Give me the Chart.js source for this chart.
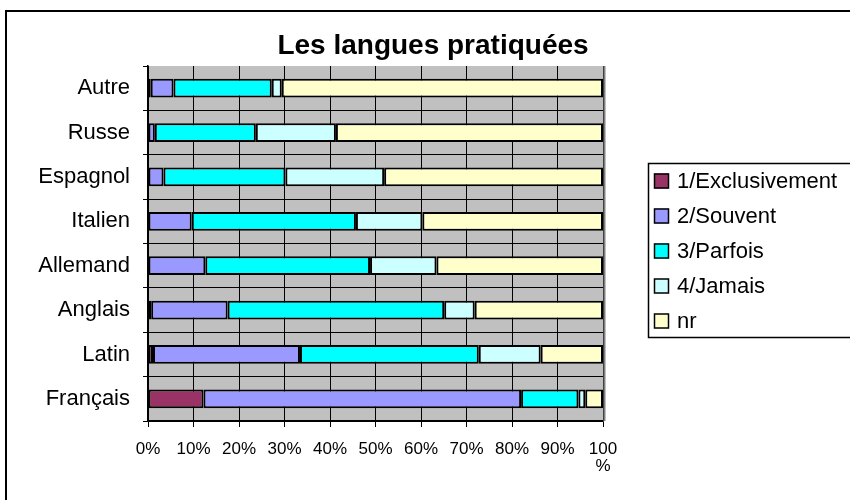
<!DOCTYPE html>
<html>
<head>
<meta charset="utf-8">
<title>Les langues pratiquées</title>
<script src="https://cdn.jsdelivr.net/npm/chart.js@4/dist/chart.umd.min.js"></script>
<style>
  html, body { margin: 0; padding: 0; background: #fff; }
  #wrap { width: 850px; height: 500px; }
</style>
</head>
<body>
<div id="wrap"><canvas id="chart" width="850" height="500"></canvas></div>
<script>
// data (percent of answers, each row sums to 100)
var title = 'Les langues pratiquées'
var categories = ['Autre', 'Russe', 'Espagnol', 'Italien', 'Allemand', 'Anglais', 'Latin', 'Français']
var seriesNames = ['1/Exclusivement', '2/Souvent', '3/Parfois', '4/Jamais', 'nr']
var exclusivement = [0.6, 0, 0, 0, 0, 0.7, 1.1, 12.2]
var souvent = [5.0, 1.5, 3.4, 9.6, 12.6, 16.8, 32.3, 69.8]
var parfois = [21.6, 22.2, 26.8, 36.1, 36.2, 47.6, 39.3, 12.6]
var jamais = [2.2, 17.6, 21.7, 14.6, 14.6, 6.7, 13.6, 1.5]
var nr = [70.6, 58.7, 48.1, 39.7, 36.6, 28.2, 13.7, 3.9]
var xTicks = [0, 10, 20, 30, 40, 50, 60, 70, 80, 90, 100]

var colors = ['#993366', '#9999FF', '#00FFFF', '#CCFFFF', '#FFFFCC']
var values = [exclusivement, souvent, parfois, jamais, nr]
var FONT = '"Liberation Sans", Arial, sans-serif'

Chart.defaults.font.family = FONT
Chart.defaults.color = '#000'

// excel-like decoration: frame, grey plot area, title and boxed legend
var decor = {
  id: 'decor',
  beforeDraw: (chart) => {
    const ctx = chart.ctx
    const a = chart.chartArea
    ctx.save()
    ctx.fillStyle = '#fff'
    ctx.fillRect(0, 0, chart.width, chart.height)
    ctx.strokeStyle = '#000'
    ctx.lineWidth = 2
    ctx.strokeRect(6, 11, 900, 600)
    ctx.fillStyle = '#C0C0C0'
    ctx.fillRect(a.left, a.top, a.right - a.left, a.bottom - a.top)
    ctx.restore()
  },
  afterDraw: (chart) => {
    const ctx = chart.ctx
    const a = chart.chartArea
    ctx.save()
    // plot area right edge
    ctx.strokeStyle = '#808080'
    ctx.lineWidth = 2
    ctx.beginPath()
    ctx.moveTo(a.right + 1.5, a.top)
    ctx.lineTo(a.right + 1.5, a.bottom)
    ctx.stroke()

    // title
    ctx.fillStyle = '#000'
    ctx.font = 'bold 28px ' + FONT
    ctx.textAlign = 'center'
    ctx.textBaseline = 'middle'
    ctx.fillText(title, 433, 46)

    // legend
    ctx.strokeStyle = '#000'
    ctx.lineWidth = 1.5
    ctx.strokeRect(648.5, 163.5, 300, 174)
    ctx.font = '22px ' + FONT
    ctx.textAlign = 'left'
    chart.data.datasets.forEach((ds, i) => {
      const y = 181 + i * 35
      ctx.fillStyle = ds.backgroundColor
      ctx.fillRect(654, y - 7.5, 15, 15)
      ctx.lineWidth = 1.5
      ctx.strokeRect(654.5, y - 7, 14, 14)
      ctx.fillStyle = '#000'
      ctx.fillText(ds.label, 677, y + 1)
    })
    ctx.restore()
  }
}

var chart = new Chart(document.getElementById('chart').getContext('2d'), {
  type: 'bar',
  data: {
    labels: categories,
    datasets: seriesNames.map((name, i) => ({
      label: name,
      data: values[i],
      backgroundColor: colors[i],
      borderColor: '#000',
      borderWidth: 2,
      borderSkipped: false,
      categoryPercentage: 1,
      barPercentage: 0.42
    }))
  },
  options: {
    indexAxis: 'y',
    responsive: false,
    animation: false,
    layout: { padding: { top: 66, right: 247, left: 0, bottom: 0 } },
    plugins: {
      legend: { display: false },
      title: { display: false },
      tooltip: { enabled: false }
    },
    scales: {
      x: {
        stacked: true,
        min: 0,
        max: 100,
        afterBuildTicks: (scale) => { scale.ticks = xTicks.map((v) => ({ value: v })) },
        afterFit: (scale) => { scale.height = 79 },
        grid: { color: '#000', lineWidth: 1, tickLength: 6, tickColor: '#000' },
        border: { display: true, color: '#000', width: 1.5 },
        ticks: {
          autoSkip: false,
          maxRotation: 0,
          padding: 14,
          font: { size: 17, lineHeight: 1 },
          callback: (v) => v === 100 ? ['100', '%'] : v + '%'
        }
      },
      y: {
        stacked: true,
        afterFit: (scale) => { scale.width = 148 },
        grid: {
          offset: true,
          color: (c) => c.index === 0 ? 'rgba(0,0,0,0)' : '#000',
          tickColor: '#000',
          tickLength: 5,
          lineWidth: 1
        },
        border: { display: true, color: '#000', width: 1.5 },
        ticks: { padding: 13, font: { size: 22 } }
      }
    }
  },
  plugins: [decor]
})
</script>
</body>
</html>
